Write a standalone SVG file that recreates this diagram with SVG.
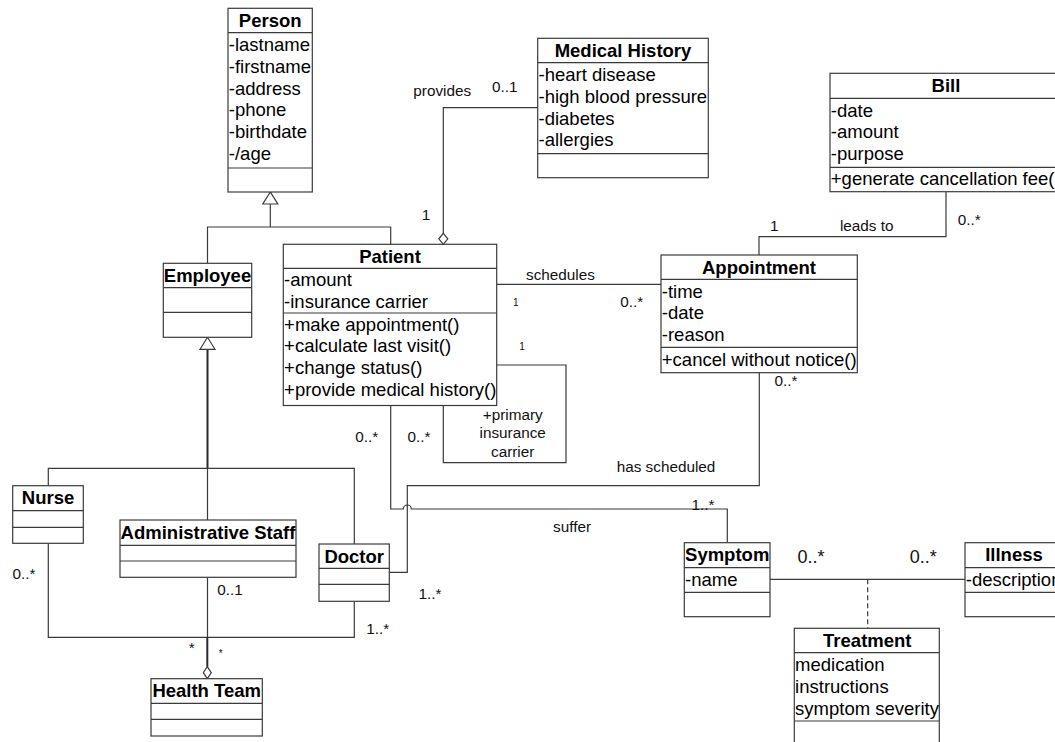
<svg xmlns="http://www.w3.org/2000/svg" width="1055" height="742" viewBox="0 0 1055 742">
  <style>
    .box { fill: #ffffff; stroke: #3a3a3a; stroke-width: 1.2; }
    .div { stroke: #3a3a3a; stroke-width: 1.2; fill: none; }
    .name { font-family: "Liberation Sans", Arial, sans-serif; font-size: 18.5px; font-weight: bold; fill: #000; text-anchor: middle; }
    .attr { font-family: "Liberation Sans", Arial, sans-serif; font-size: 18.5px; fill: #000; }
    .lbl { font-family: "Liberation Sans", Arial, sans-serif; font-size: 15.3px; fill: #111; }
    .mid { text-anchor: middle; }
    .big { font-size: 18px; }
    .tiny { font-size: 10px; }
    .wire { fill: none; stroke: #3a3a3a; stroke-width: 1.2; }
    .thick { fill: none; stroke: #2a2a2a; stroke-width: 2; }
    .dash { fill: none; stroke: #3a3a3a; stroke-width: 1.2; stroke-dasharray: 5 3; }
    .head { fill: #ffffff; stroke: #3a3a3a; stroke-width: 1.2; }
  </style>

  <rect width="1055" height="742" fill="#ffffff"/>

  <!-- connectors -->
  <g id="connectors">
    <!-- Person generalization -->
    <path class="wire" d="M270.3 204 V227 M207.5 263.3 V227 H390.7 V244.3"/>
    <polygon class="head" points="270.3,192 262.8,204 277.8,204"/>
    <!-- Employee generalization -->
    <path class="thick" d="M207.5 349.3 V468.3"/>
    <path class="wire" d="M48.3 485.7 V468.3 H354.3 V544 M207.5 468.3 V520"/>
    <polygon class="head" points="207.5,337.3 200,349.3 215,349.3"/>
    <!-- Patient provides Medical History -->
    <path class="wire" d="M537.7 107.7 H443.3 V233.3"/>
    <polygon class="head" points="443.3,233.3 447.8,238.8 443.3,244.3 438.8,238.8"/>
    <!-- schedules -->
    <path class="wire" d="M496.7 284.3 H661"/>
    <!-- leads to -->
    <path class="wire" d="M946 191.7 V236.7 H759 V255"/>
    <!-- primary insurance carrier (self association) -->
    <path class="wire" d="M496.7 365 H566 V462.7 H443.3 V405.5"/>
    <!-- has scheduled -->
    <path class="wire" d="M759.3 372.7 V485.7 H407.3 V572.3 H389.3"/>
    <!-- suffer, hops over has scheduled -->
    <path class="wire" d="M390.7 405.5 V509 H403.3 A4 4 0 0 1 411.3 509 H727.3 V542.7"/>
    <!-- Symptom - Illness with Treatment association class -->
    <path class="wire" d="M770 579.3 H965"/>
    <path class="dash" d="M867.7 579.3 V628.3"/>
    <!-- Health Team aggregation -->
    <path class="wire" d="M48.3 543.3 V637.3 H354.3 V601.3"/>
    <path class="wire" d="M207.5 577.3 V637.3"/>
    <path class="thick" d="M207.3 637.3 V666.7"/>
    <polygon class="head" points="207.3,666.7 211.3,672.7 207.3,678.7 203.3,672.7"/>

    <!-- association labels -->
    <text class="lbl" x="413.3" y="95.7">provides</text>
    <text class="lbl" x="492" y="92.4">0..1</text>
    <text class="lbl mid" x="426" y="220.4">1</text>
    <text class="lbl" x="526" y="280">schedules</text>
    <text class="lbl mid tiny" x="515.7" y="306.3">1</text>
    <text class="lbl mid tiny" x="522" y="350.3">1</text>
    <text class="lbl mid" x="631.7" y="306.5">0..*</text>
    <text class="lbl mid" x="774.3" y="231">1</text>
    <text class="lbl mid" x="866.7" y="230.7">leads to</text>
    <text class="lbl mid" x="969.3" y="225.4">0..*</text>
    <text class="lbl mid" x="786" y="386">0..*</text>
    <text class="lbl mid" x="512.7" y="420">+primary</text>
    <text class="lbl mid" x="512.7" y="438.3">insurance</text>
    <text class="lbl mid" x="512.7" y="456.7">carrier</text>
    <text class="lbl mid" x="366.7" y="442">0..*</text>
    <text class="lbl mid" x="419" y="442">0..*</text>
    <text class="lbl mid" x="666" y="472.3">has scheduled</text>
    <text class="lbl mid" x="703" y="510.4">1..*</text>
    <text class="lbl mid" x="572" y="531.7">suffer</text>
    <text class="lbl mid big" x="811" y="563">0..*</text>
    <text class="lbl mid big" x="923.3" y="563">0..*</text>
    <text class="lbl mid" x="24" y="578.7">0..*</text>
    <text class="lbl mid" x="230" y="595.4">0..1</text>
    <text class="lbl mid" x="191.7" y="652.6">*</text>
    <text class="lbl mid tiny" x="220.7" y="656.7">*</text>
    <text class="lbl mid" x="377.7" y="633.7">1..*</text>
    <text class="lbl mid" x="430" y="599.4">1..*</text>
  </g>

  <!-- Person -->
  <g id="person">
    <rect class="box" x="228" y="8.3" width="84.3" height="183.7"/>
    <path class="div" d="M228 32.7 H312.3 M228 168 H312.3"/>
    <text class="name" x="270.2" y="27">Person</text>
    <text class="attr" x="228.8" y="51">-lastname</text>
    <text class="attr" x="228.8" y="72.8">-firstname</text>
    <text class="attr" x="228.8" y="94.6">-address</text>
    <text class="attr" x="228.8" y="116.4">-phone</text>
    <text class="attr" x="228.8" y="138.2">-birthdate</text>
    <text class="attr" x="228.8" y="160">-/age</text>
  </g>

  <!-- Medical History -->
  <g id="medical-history">
    <rect class="box" x="537.7" y="38.3" width="170.6" height="139.4"/>
    <path class="div" d="M537.7 62.7 H708.3 M537.7 153.7 H708.3"/>
    <text class="name" x="623" y="57">Medical History</text>
    <text class="attr" x="538.5" y="81">-heart disease</text>
    <text class="attr" x="538.5" y="102.8">-high blood pressure</text>
    <text class="attr" x="538.5" y="124.6">-diabetes</text>
    <text class="attr" x="538.5" y="146.4">-allergies</text>
  </g>

  <!-- Bill -->
  <g id="bill">
    <rect class="box" x="830" y="73.3" width="232" height="118.4"/>
    <path class="div" d="M830 98.3 H1062 M830 167.3 H1062"/>
    <text class="name" x="946" y="92">Bill</text>
    <text class="attr" x="830.8" y="116.6">-date</text>
    <text class="attr" x="830.8" y="138.4">-amount</text>
    <text class="attr" x="830.8" y="160.2">-purpose</text>
    <text class="attr" x="830.8" y="185.4">+generate cancellation fee()</text>
  </g>

  <!-- Employee -->
  <g id="employee">
    <rect class="box" x="163.3" y="263.3" width="88.4" height="74"/>
    <path class="div" d="M163.3 287.7 H251.7 M163.3 312.3 H251.7"/>
    <text class="name" x="207.5" y="282">Employee</text>
  </g>

  <!-- Patient -->
  <g id="patient">
    <rect class="box" x="283.3" y="244.3" width="213.4" height="161.2"/>
    <path class="div" d="M283.3 268.4 H496.7 M283.3 313 H496.7"/>
    <text class="name" x="390" y="263">Patient</text>
    <text class="attr" x="284.1" y="286">-amount</text>
    <text class="attr" x="284.1" y="307.7">-insurance carrier</text>
    <text class="attr" x="284.1" y="330.5">+make appointment()</text>
    <text class="attr" x="284.1" y="352.2">+calculate last visit()</text>
    <text class="attr" x="284.1" y="373.9">+change status()</text>
    <text class="attr" x="284.1" y="395.6">+provide medical history()</text>
  </g>

  <!-- Appointment -->
  <g id="appointment">
    <rect class="box" x="661" y="255" width="196.3" height="117.7"/>
    <path class="div" d="M661 279.3 H857.3 M661 347.3 H857.3"/>
    <text class="name" x="759" y="273.7">Appointment</text>
    <text class="attr" x="661.8" y="297.6">-time</text>
    <text class="attr" x="661.8" y="319.4">-date</text>
    <text class="attr" x="661.8" y="341.2">-reason</text>
    <text class="attr" x="661.8" y="365.6">+cancel without notice()</text>
  </g>

  <!-- Nurse -->
  <g id="nurse">
    <rect class="box" x="12.7" y="485.7" width="70.6" height="57.6"/>
    <path class="div" d="M12.7 510.7 H83.3 M12.7 527.3 H83.3"/>
    <text class="name" x="48" y="504.4">Nurse</text>
  </g>

  <!-- Administrative Staff -->
  <g id="administrative-staff">
    <rect class="box" x="120" y="520" width="176" height="57.3"/>
    <path class="div" d="M120 545.3 H296 M120 561 H296"/>
    <text class="name" x="208" y="538.7">Administrative Staff</text>
  </g>

  <!-- Doctor -->
  <g id="doctor">
    <rect class="box" x="319" y="544" width="70.3" height="57.3"/>
    <path class="div" d="M319 568.3 H389.3 M319 584.3 H389.3"/>
    <text class="name" x="354.2" y="562.7">Doctor</text>
  </g>

  <!-- Health Team -->
  <g id="health-team">
    <rect class="box" x="151" y="678.7" width="111.3" height="57.3"/>
    <path class="div" d="M151 703.3 H262.3 M151 719.3 H262.3"/>
    <text class="name" x="206.7" y="697.4">Health Team</text>
  </g>

  <!-- Symptom -->
  <g id="symptom">
    <rect class="box" x="684.3" y="542.7" width="85.7" height="74"/>
    <path class="div" d="M684.3 567.7 H770 M684.3 592.3 H770"/>
    <text class="name" x="727.2" y="561.4">Symptom</text>
    <text class="attr" x="685.1" y="585.7">-name</text>
  </g>

  <!-- Illness -->
  <g id="illness">
    <rect class="box" x="965" y="542.7" width="98" height="74"/>
    <path class="div" d="M965 567.7 H1063 M965 592.3 H1063"/>
    <text class="name" x="1014" y="561.4">Illness</text>
    <text class="attr" x="965.8" y="585.7">-description</text>
  </g>

  <!-- Treatment -->
  <g id="treatment">
    <rect class="box" x="794.3" y="628.3" width="145" height="125"/>
    <path class="div" d="M794.3 652.7 H939.3 M794.3 721 H939.3"/>
    <text class="name" x="867.3" y="647">Treatment</text>
    <text class="attr" x="795.1" y="671">medication</text>
    <text class="attr" x="795.1" y="692.8">instructions</text>
    <text class="attr" x="795.1" y="714.6">symptom severity</text>
  </g>
</svg>
